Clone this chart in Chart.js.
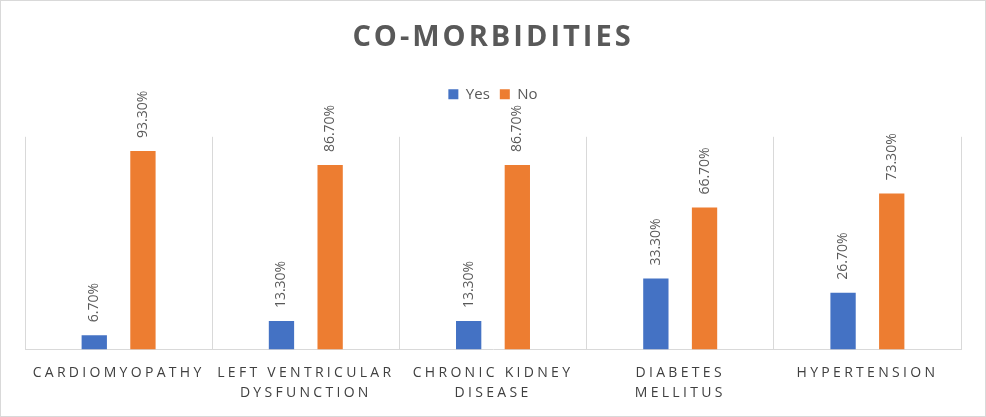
<!DOCTYPE html>
<html>
<head>
<meta charset="utf-8">
<script src="https://cdn.jsdelivr.net/npm/chart.js@4"></script>
<style>
  html, body { margin: 0; padding: 0; background: #fff; }
  #wrap { width: 986px; height: 417px; box-sizing: border-box; border: 1px solid #d9d9d9; }
</style>
</head>
<body>
<div id="wrap"><canvas id="comorbChart"></canvas></div>
<script>
const categories = [
    'CARDIOMYOPATHY',
    ['LEFT VENTRICULAR', 'DYSFUNCTION'],
    ['CHRONIC KIDNEY', 'DISEASE'],
    ['DIABETES', 'MELLITUS'],
    'HYPERTENSION'
];
const yesValues = [6.7, 13.3, 13.3, 33.3, 26.7];
const noValues = [93.3, 86.7, 86.7, 66.7, 73.3];

const FONT = "'Open Sans', sans-serif";

// patch letter spacing onto the x labels and the title
const spacingPlugin = {
    id: 'spacing',
    beforeInit(chart) {
        const origFit = chart.legend.fit;
        chart.legend.fit = function () {
            origFit.call(this);
            this.height += 25;
        };
    },
    beforeDraw(chart) {
        const xs = chart.scales.x;
        if (!xs._spaced) {
            const orig = xs.drawLabels;
            xs.drawLabels = function (area) {
                this.ctx.save();
                this.ctx.letterSpacing = '3.3px';
                orig.call(this, area);
                this.ctx.restore();
            };
            xs._spaced = true;
        }
        const tb = chart.titleBlock;
        if (tb && !tb._spaced) {
            const origT = tb.draw;
            tb.draw = function () {
                this.ctx.save();
                this.ctx.letterSpacing = '3px';
                origT.call(this);
                this.ctx.restore();
            };
            tb._spaced = true;
        }
    }
};

// rotated value labels above each bar
const valueLabels = {
    id: 'valueLabels',
    afterDatasetsDraw(chart) {
        const ctx = chart.ctx;
        ctx.save();
        ctx.font = '14px ' + FONT;
        ctx.fillStyle = '#595959';
        ctx.textAlign = 'left';
        ctx.textBaseline = 'middle';
        chart.data.datasets.forEach((ds, di) => {
            chart.getDatasetMeta(di).data.forEach((bar, i) => {
                ctx.save();
                ctx.translate(bar.x, bar.y - 13);
                ctx.rotate(-Math.PI / 2);
                ctx.fillText(ds.data[i].toFixed(2) + '%', 0, 0);
                ctx.restore();
            });
        });
        ctx.restore();
    }
};

const ctx = document.getElementById('comorbChart').getContext('2d');
const chart = new Chart(ctx, {
    type: 'bar',
    data: {
        labels: categories,
        datasets: [
            { label: 'Yes', data: yesValues, backgroundColor: '#4472C4' },
            { label: 'No', data: noValues, backgroundColor: '#ED7D31' }
        ]
    },
    options: {
        responsive: true,
        maintainAspectRatio: false,
        animation: false,
        categoryPercentage: 0.52,
        barPercentage: 0.52,
        layout: { padding: { left: 24, right: 24, top: 0, bottom: 0 } },
        plugins: {
            title: {
                display: true,
                text: 'CO-MORBIDITIES',
                color: '#595959',
                font: { family: FONT, size: 29, weight: 'bold', lineHeight: 1.2 },
                padding: { top: 19, bottom: 22 }
            },
            legend: {
                display: true,
                labels: {
                    color: '#595959',
                    font: { family: FONT, size: 15 },
                    boxWidth: 10,
                    boxHeight: 10,
                    padding: 10
                }
            },
            tooltip: { enabled: false }
        },
        scales: {
            x: {
                grid: { color: '#d9d9d9', drawTicks: false, offset: true },
                border: { color: '#d9d9d9' },
                ticks: {
                    color: '#404040',
                    font: { family: FONT, size: 14, lineHeight: 1.45 },
                    padding: 13,
                    maxRotation: 0,
                    autoSkip: false
                }
            },
            y: { display: false, min: 0, max: 100 }
        }
    },
    plugins: [spacingPlugin, valueLabels]
});
</script>
</body>
</html>
